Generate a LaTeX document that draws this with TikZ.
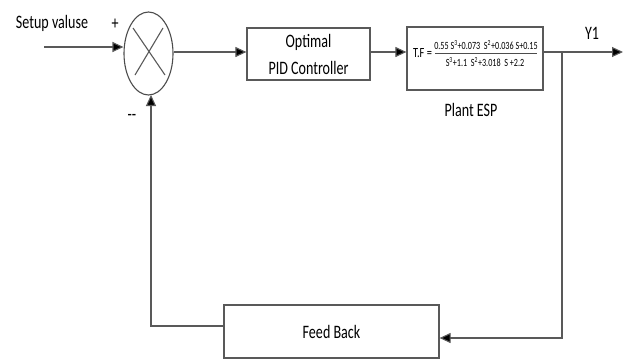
\documentclass[tikz,border=0pt]{standalone}
\usepackage{fontspec}
\setmainfont{Carlito}[FakeStretch=0.74]
\usetikzlibrary{arrows.meta,shapes.geometric}
\tikzset{
  ln/.style={draw=black!65, line width=1.1pt},
  arr/.style={ln, -{Triangle[length=11pt,width=10pt,fill=black]}},
  blk/.style={draw=black!65, line width=1.2pt, rectangle, inner sep=0pt, align=center, font=\fontsize{19}{27}\selectfont},
  lbl/.style={inner sep=0pt, font=\fontsize{19}{22}\selectfont}
}
\begin{document}
\begin{tikzpicture}[x=1pt,y=-1pt]
\useasboundingbox (0,0) rectangle (626,359);
% nodes
\node[ellipse, draw=black!70, line width=1.1pt, minimum width=49pt, minimum height=83pt, inner sep=0pt] (sum) at (148.5,53.5) {};
\draw[ln] (133,28) -- (165,75);
\draw[ln] (163,28) -- (135,75);
\node[blk, minimum width=123pt, minimum height=52pt] (pid) at (308.5,54) {Optimal\\PID Controller};
\node[blk, minimum width=136pt, minimum height=63pt] (plant) at (475,58.5) {};
\node[blk, minimum width=215pt, minimum height=53pt] (fb) at (331.5,331.5) {Feed Back};
% plant transfer function
\node[inner sep=0pt, font=\fontsize{14}{14}\selectfont] (tf) at (422.5,53) {T.F =};
\node[inner sep=0pt, font=\fontsize{11}{11}\selectfont] (num) at (486,45.5) {0.55\,S\textsuperscript{3}+0.073\,\,S\textsuperscript{2}+0.036\,S+0.15};
\node[inner sep=0pt, font=\fontsize{11}{11}\selectfont] (den) at (485,62.5) {S\textsuperscript{3}+1.1\,\,S\textsuperscript{2}+3.018\,\,S\,+2.2};
\coordinate (fl) at (435,53.5);
\coordinate (fr) at (537,53.5);
\draw[black!70, line width=0.7pt] (fl) -- (fr);
% labels
\node[lbl] (setup) at (52,23) {Setup valuse};
\node[lbl] (plus) at (115,24) {+};
\node[lbl] (minus) at (132,117) {{-}{-}};
\node[lbl] (y1) at (592,33) {Y1};
\node[lbl] (pesp) at (471,110) {Plant ESP};
% coordinates
\coordinate (in) at (44,47);
\coordinate (out) at (623,52);
\coordinate (branch) at (562,52);
\coordinate (fbin) at (562,338);
\coordinate (fbout) at (151,326);
\coordinate (fbup) at (151,95);
% connectors
\draw[arr] (in) -- (sum.west |- in);
\draw[arr] (sum.east |- branch) -- (pid.west |- branch);
\draw[arr] (pid.east |- branch) -- (plant.west |- branch);
\draw[arr] (plant.east |- branch) -- (out);
\draw[arr] (branch) -- (fbin) -- (fb.east |- fbin);
\draw[arr] (fb.west |- fbout) -- (fbout) -- (fbup);
\end{tikzpicture}
\end{document}
